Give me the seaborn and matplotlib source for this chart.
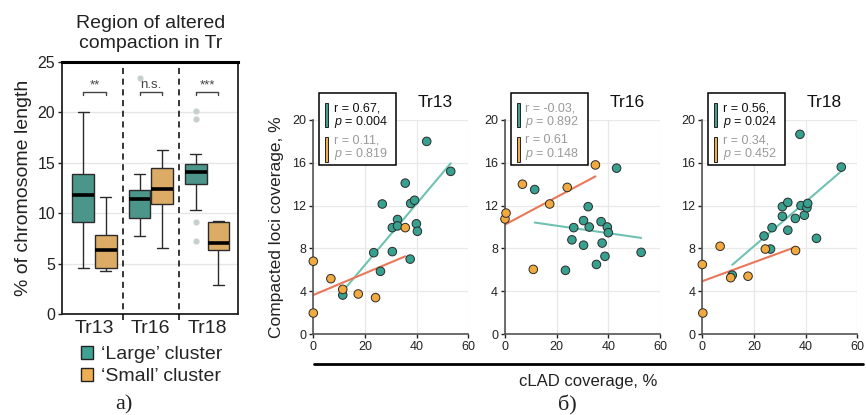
import numpy as np
import pandas as pd
import matplotlib
matplotlib.use("Agg")
import matplotlib.pyplot as plt
import seaborn as sns
from matplotlib.patches import Rectangle, Patch
from matplotlib.lines import Line2D

# ---------------- data ----------------
tr_groups = ["Tr13", "Tr16", "Tr18"]
clusters = ["Large", "Small"]

# boxplot raw values (% of chromosome length)
box_tr13_large = [4.56, 7.0, 9.1, 10.6, 11.8, 12.9, 13.9, 17.0, 20.0]
box_tr13_small = [4.3, 4.45, 4.56, 5.5, 6.4, 7.1, 7.8, 9.6, 11.57]
box_tr16_large = [7.7, 8.5, 9.2, 9.5, 10.2, 10.9, 11.44, 11.8, 12.1, 12.3, 13.0, 13.85, 23.4]
box_tr16_small = [6.6, 9.0, 10.94, 11.8, 12.43, 13.5, 14.45, 15.4, 16.3]
box_tr18_large = [7.24, 9.16, 10.28, 11.9, 12.9, 13.3, 13.6, 13.9, 14.09, 14.3, 14.5,
                  14.7, 14.88, 15.3, 15.87, 19.3, 20.07]
box_tr18_small = [2.88, 5.0, 6.35, 6.8, 7.1, 8.2, 9.09, 9.15, 9.19]

sig_labels = ["**", "n.s.", "***"]

# scatter: cLAD coverage (x) vs compacted loci coverage (y)
tr13_large_x = [11.4, 23.4, 26.0, 26.7, 30.6, 30.6, 32.6, 32.6, 35.6, 37.5, 37.7, 39.2, 39.9, 40.3, 43.9, 53.2]
tr13_large_y = [3.64, 7.6, 5.86, 12.15, 7.7, 9.94, 10.7, 10.1, 14.1, 7.0, 12.2, 12.5, 10.3, 9.6, 18.0, 15.2]
tr13_small_x = [0.0, 0.0, 6.8, 11.4, 17.4, 24.1, 35.6]
tr13_small_y = [6.8, 1.96, 5.17, 4.17, 3.74, 3.4, 9.94]

tr16_large_x = [11.5, 23.4, 25.9, 26.6, 30.4, 30.4, 32.2, 32.6, 35.4, 37.2, 37.6, 38.7, 39.6, 40.0, 43.2, 52.7]
tr16_large_y = [13.5, 5.95, 8.8, 9.94, 10.6, 8.3, 11.9, 10.0, 6.5, 10.5, 8.5, 7.26, 10.0, 9.47, 15.5, 7.63]
tr16_small_x = [0.0, 0.4, 6.75, 10.95, 17.3, 24.1, 35.0]
tr16_small_y = [10.75, 11.3, 14.0, 6.04, 12.15, 13.7, 15.8]

tr18_large_x = [11.6, 23.9, 26.4, 27.0, 31.0, 31.0, 33.1, 33.1, 36.0, 37.8, 38.2, 39.5, 40.5, 40.8, 44.2, 53.8]
tr18_large_y = [5.5, 9.16, 7.94, 9.94, 11.9, 11.0, 9.7, 12.3, 10.8, 18.66, 12.0, 11.1, 11.8, 12.2, 8.94, 15.6]
tr18_small_x = [0.0, 0.2, 6.9, 11.0, 17.7, 24.4, 36.1]
tr18_small_y = [6.5, 1.96, 8.2, 5.26, 5.4, 7.94, 7.8]

stats_r = [["r = 0.67,", "r = 0.11,"], ["r = -0.03,", "r = 0.61"], ["r = 0.56,", "r = 0.34,"]]
stats_p = [["0.004", "0.819"], ["0.892", "0.148"], ["0.024", "0.452"]]
stats_sig = [[True, False], [False, False], [True, False]]

# ---------------- styling ----------------
teal = "#3fa193"
orange = "#f0ae52"
teal_pt = "#37a08f"
orange_pt = "#f2aa3e"
teal_line = "#6fc2b2"
orange_line = "#e8785a"

sns.set_theme(style="white")
plt.rcParams["font.family"] = ["Liberation Sans", "DejaVu Sans"]
plt.rcParams["mathtext.fontset"] = "custom"
plt.rcParams["mathtext.it"] = "Liberation Sans:italic"
plt.rcParams["mathtext.rm"] = "Liberation Sans"

fig = plt.figure(figsize=(8.66, 4.15), dpi=100)

# ---------------- boxplot panel ----------------
box_vals = {
    ("Tr13", "Large"): box_tr13_large, ("Tr13", "Small"): box_tr13_small,
    ("Tr16", "Large"): box_tr16_large, ("Tr16", "Small"): box_tr16_small,
    ("Tr18", "Large"): box_tr18_large, ("Tr18", "Small"): box_tr18_small,
}
rows = []
for (tr, cl), vals in box_vals.items():
    for v in vals:
        rows.append({"tr": tr, "cluster": cl, "value": v})
box_df = pd.DataFrame(rows)

axb = fig.add_axes([0.0719, 0.2427, 0.2032, 0.6087])
sns.boxplot(data=box_df, x="tr", y="value", hue="cluster", order=tr_groups,
            hue_order=clusters, palette=[teal, orange], width=0.8, gap=0.03,
            linecolor="#2b2b2b", linewidth=1.0, fliersize=4.5,
            flierprops=dict(marker="o", markerfacecolor="#c8cfcf", markeredgecolor="none"),
            medianprops=dict(color="black", linewidth=2.6),
            legend=False, ax=axb)
axb.set_xlim(-0.57, 2.55)
axb.set_ylim(0, 25)
axb.set_yticks([0, 5, 10, 15, 20, 25])
axb.yaxis.grid(True, color="#e6e6e6", lw=1)
axb.set_axisbelow(True)
axb.set_xlabel("")
axb.set_ylabel("% of chromosome length", fontsize=14, labelpad=4, color="#222")
axb.tick_params(axis="y", labelsize=11.5, length=3, width=1, colors="#222", pad=2, left=True)
axb.tick_params(axis="x", labelsize=14, length=0, pad=4, colors="#222")
for s in ["left", "bottom", "right"]:
    axb.spines[s].set_color("#222")
    axb.spines[s].set_linewidth(1.3)
axb.spines["top"].set_color("black")
axb.spines["top"].set_linewidth(2.2)
axb.set_title("Region of altered\ncompaction in Tr", fontsize=14, pad=10, color="#222",
              linespacing=1.25)
for xd in [0.5, 1.5]:
    axb.plot([xd, xd], [-0.6, 25], ls=(0, (4, 3)), color="black", lw=1.1, clip_on=False, zorder=4)
for i, lab in enumerate(sig_labels):
    x0, x1 = i - 0.2, i + 0.2
    axb.plot([x0, x0, x1, x1], [21.7, 22.0, 22.0, 21.7], color="#444", lw=1.0)
    axb.text(i, 22.1, lab, ha="center", va="bottom", fontsize=9.5, color="#444")

handles = [Patch(facecolor=teal, edgecolor="#222", lw=1.0),
           Patch(facecolor=orange, edgecolor="#222", lw=1.0)]
fig.legend(handles, ["\u2018Large\u2019 cluster", "\u2018Small\u2019 cluster"],
           loc="upper left", bbox_to_anchor=(0.093, 0.166), frameon=False, fontsize=14,
           handlelength=0.65, handleheight=0.65, handletextpad=0.4, labelspacing=0.22,
           borderpad=0, borderaxespad=0)
fig.text(124 / 866, 1 - 405 / 415, "\u0430)", fontsize=16, family="Liberation Serif",
         ha="center", va="center", color="#222")

# ---------------- scatter panels ----------------
scatter_sets = [
    (tr13_large_x, tr13_large_y, tr13_small_x, tr13_small_y),
    (tr16_large_x, tr16_large_y, tr16_small_x, tr16_small_y),
    (tr18_large_x, tr18_large_y, tr18_small_x, tr18_small_y),
]
lefts = [313.3, 505.0, 702.3]
for k, (lx, ly, sx, sy) in enumerate(scatter_sets):
    ax = fig.add_axes([lefts[k] / 866, 81 / 415, 155 / 866, 214 / 415])
    df = pd.DataFrame({"clad": lx + sx, "cov": ly + sy,
                       "cluster": ["Large"] * len(lx) + ["Small"] * len(sx)})
    sns.regplot(data=df[df.cluster == "Large"], x="clad", y="cov", scatter=False, ci=None,
                color=teal_line, line_kws=dict(lw=1.5), ax=ax)
    sns.regplot(data=df[df.cluster == "Small"], x="clad", y="cov", scatter=False, ci=None,
                color=orange_line, line_kws=dict(lw=1.5), ax=ax)
    sns.scatterplot(data=df, x="clad", y="cov", hue="cluster", hue_order=clusters,
                    palette=[teal_pt, orange_pt], s=38, edgecolor="#2a2a2a", linewidth=0.7,
                    legend=False, zorder=3, clip_on=False, ax=ax)
    ax.set_xlim(0, 60)
    ax.set_ylim(0, 20)
    ax.set_xticks([0, 20, 40, 60])
    ax.set_yticks([0, 4, 8, 12, 16, 20])
    ax.grid(True, color="#e8e8e8", lw=0.9)
    ax.set_axisbelow(True)
    ax.set_xlabel("")
    ax.set_ylabel("")
    ax.tick_params(labelsize=9, length=3, width=1, colors="#222", pad=2, left=True, bottom=True)
    for s in ["top", "right"]:
        ax.spines[s].set_visible(False)
    for s in ["left", "bottom"]:
        ax.spines[s].set_color("#555")
        ax.spines[s].set_linewidth(1.2)
    ax.text(0.90, 1.08, tr_groups[k], transform=ax.transAxes, ha="right", va="center",
            fontsize=12.5, color="#111")
    # stats box
    ax.add_patch(Rectangle((0.039, 0.79), 0.496, 0.335, transform=ax.transAxes,
                           facecolor="white", edgecolor="black", lw=1.1, clip_on=False,
                           zorder=5))
    for j, (col, yb, hb, yr, yp) in enumerate([(teal, 0.969, 0.109, 1.042, 0.977),
                                               (orange, 0.804, 0.117, 0.892, 0.825)]):
        ax.add_patch(Rectangle((0.075, yb), 0.02, hb,
                               transform=ax.transAxes, facecolor=col, edgecolor="#222",
                               lw=0.7, clip_on=False, zorder=6))
        tcol = "#111" if stats_sig[k][j] else "#9a9a9a"
        ax.text(0.132, yr, stats_r[k][j], transform=ax.transAxes, ha="left", va="baseline",
                fontsize=9, color=tcol, zorder=7)
        ax.text(0.132, yp, r"$p$ = " + stats_p[k][j], transform=ax.transAxes, ha="left",
                va="baseline", fontsize=9, color=tcol, zorder=7)
    if k == 0:
        ax.set_ylabel("Compacted loci coverage, %", fontsize=12.5, color="#222", labelpad=6)

fig.add_artist(Line2D([314 / 866, 863 / 866], [1 - 364 / 415, 1 - 364 / 415],
                      color="black", lw=2))
fig.text(588 / 866, 1 - 381 / 415, "cLAD coverage, %", fontsize=12, ha="center",
         va="center", color="#222")
fig.text(567 / 866, 1 - 405 / 415, "\u0431)", fontsize=16, family="Liberation Serif",
         ha="center", va="center", color="#222")

fig.savefig("out.png", dpi=100)
